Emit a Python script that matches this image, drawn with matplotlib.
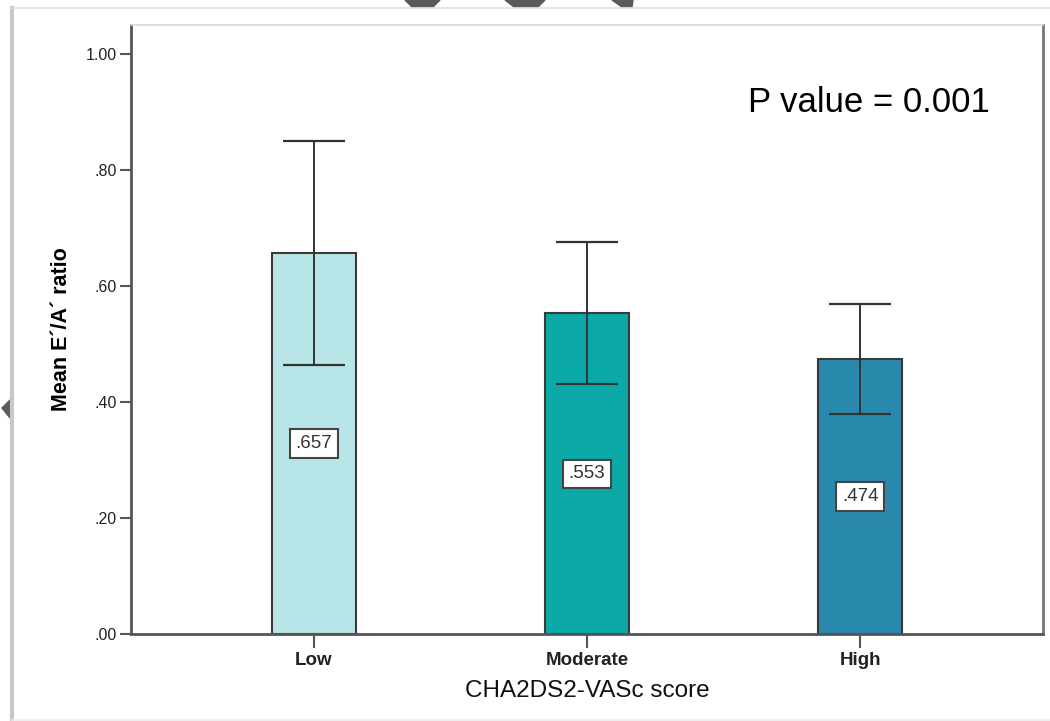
import matplotlib
matplotlib.use('Agg')
import matplotlib.pyplot as plt
from matplotlib import font_manager
from matplotlib.lines import Line2D
from matplotlib.patches import Polygon

# Data
categories = ['Low', 'Moderate', 'High']
means = [0.657, 0.553, 0.474]
ci_low = [0.464, 0.431, 0.379]
ci_high = [0.850, 0.676, 0.569]
bar_colors = ['#B8E6E8', '#0AA8A6', '#2A8AAD']
yticks = [0.0, 0.2, 0.4, 0.6, 0.8, 1.0]
ytick_labels = ['.00', '.20', '.40', '.60', '.80', '1.00']

plt.rcParams['font.family'] = ['Liberation Sans', 'DejaVu Sans']
names = {f.name for f in font_manager.fontManager.ttflist}
pfont = 'Liberation Sans Narrow' if 'Liberation Sans Narrow' in names else 'Liberation Sans'

fig = plt.figure(figsize=(10.5, 7.21), dpi=100)
ax = fig.add_axes([131 / 1050, 87 / 721, 912 / 1050, 609 / 721])

x = list(range(len(categories)))
ax.bar(x, means, width=0.31, color=bar_colors, edgecolor='#3a3a3a', linewidth=1.5, zorder=2)
yerr = [[m - lo for m, lo in zip(means, ci_low)], [hi - m for m, hi in zip(means, ci_high)]]
ax.errorbar(x, means, yerr=yerr, fmt='none', ecolor='#333333', elinewidth=1.4,
            capsize=22, capthick=1.6, zorder=3)

for xi, m in zip(x, means):
    ax.text(xi, m / 2, ('%.3f' % m).lstrip('0'), ha='center', va='center', fontsize=13.5,
            color='#333333', zorder=4,
            bbox=dict(boxstyle='square,pad=0.3', facecolor='white', edgecolor='#444444', linewidth=1.5))

ax.set_xlim(-0.67, 2.67)
ax.set_ylim(0, 1.05)
ax.set_yticks(yticks)
ax.set_yticklabels(ytick_labels, fontsize=11.5, color='#222222')
ax.set_xticks(x)
ax.set_xticklabels(categories, fontsize=13.5, fontweight='bold', color='#222222')
ax.tick_params(axis='y', length=8, width=1.5, color='#555555', pad=2)
ax.tick_params(axis='x', length=10, width=1.5, color='#555555', pad=3)

ax.set_ylabel('Mean E´/A´ ratio', fontsize=15.5, fontweight='bold', labelpad=10)
ax.set_xlabel('CHA2DS2-VASc score', fontsize=17.5, labelpad=8, color='#111111')

for side in ['left', 'bottom']:
    ax.spines[side].set_color('#555555')
    ax.spines[side].set_linewidth(2)
ax.spines['top'].set_color('#d8d8d8')
ax.spines['top'].set_linewidth(1.2)
ax.spines['right'].set_color('#777777')
ax.spines['right'].set_linewidth(2)

ax.text(0.942, 0.872, 'P value = 0.001', transform=ax.transAxes, ha='right', va='center',
        fontsize=25, family=pfont, color='black')

# outer frame of the screenshot
fig.add_artist(Line2D([12 / 1050, 12 / 1050], [0, 1 - 8 / 721], color='#c8c8c8', lw=3))
fig.add_artist(Line2D([12 / 1050, 1], [1 - 8 / 721, 1 - 8 / 721], color='#e0e0e0', lw=1.2))
fig.add_artist(Line2D([12 / 1050, 1], [1 / 721, 1 / 721], color='#ebebeb', lw=1.2))

# small grey handles cut off at the top and left edge
for pts in ([(405, 0), (440, 0), (433, 7), (412, 7)],
            [(505, 0), (545, 0), (538, 7), (514, 7)],
            [(612, 0), (633, 0), (632, 7), (622, 7)],
            [(2, 408), (10, 400), (10, 418)]):
    fig.add_artist(Polygon([(px / 1050, 1 - py / 721) for px, py in pts],
                           closed=True, color='#5a5a5a', transform=fig.transFigure))

fig.savefig('out.png', dpi=100)
